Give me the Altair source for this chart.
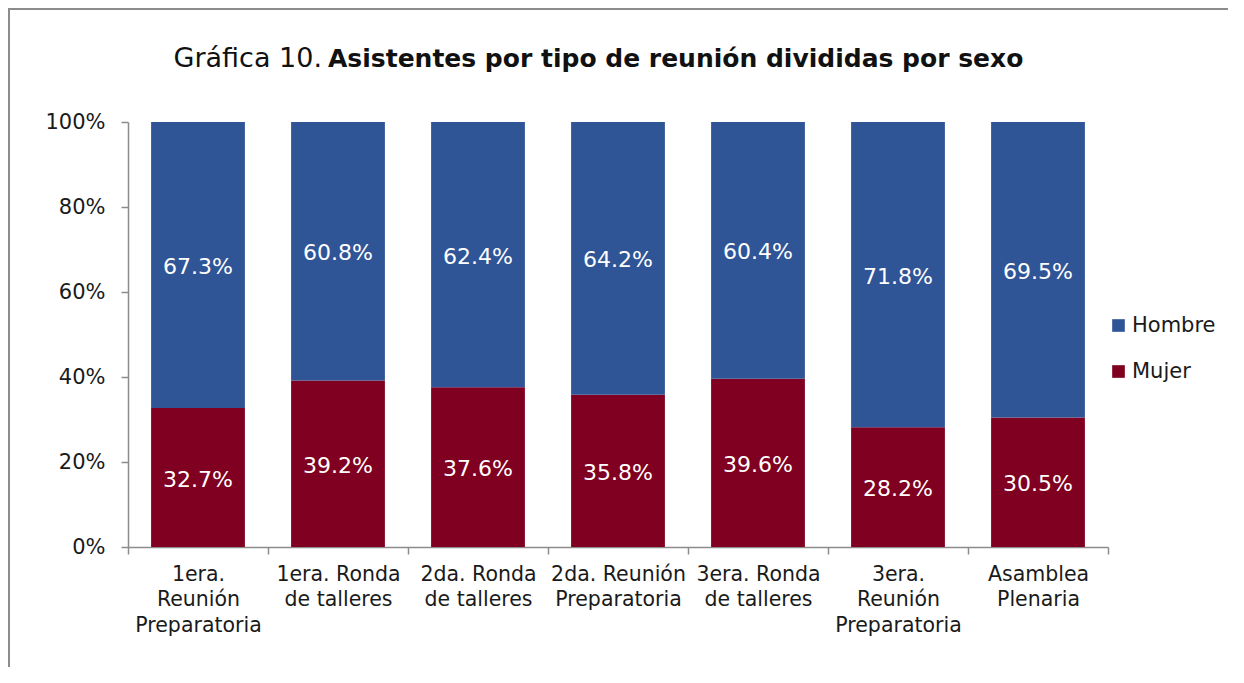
import altair as alt
import pandas as pd

titulo_normal = "Gráfica 10."
titulo_negrita = "Asistentes por tipo de reunión divididas por sexo"

categorias = [
    "1era.|Reunión|Preparatoria",
    "1era. Ronda|de talleres",
    "2da. Ronda|de talleres",
    "2da. Reunión|Preparatoria",
    "3era. Ronda|de talleres",
    "3era.|Reunión|Preparatoria",
    "Asamblea|Plenaria",
]
mujer = [32.7, 39.2, 37.6, 35.8, 39.6, 28.2, 30.5]
hombre = [67.3, 60.8, 62.4, 64.2, 60.4, 71.8, 69.5]
series = ["Hombre", "Mujer"]
colores = ["#2F5597", "#7F0020"]

rows = []
for c, m, h in zip(categorias, mujer, hombre):
    rows.append({"cat": c, "sexo": "Mujer", "v": m / 100, "ord": 0})
    rows.append({"cat": c, "sexo": "Hombre", "v": h / 100, "ord": 1})
df = pd.DataFrame(rows)

FONT = "DejaVu Sans"

base = alt.Chart(df).transform_stack(
    stack="v", groupby=["cat"], as_=["v0", "v1"], sort=[alt.SortField("ord")]
).transform_calculate(mid="(datum.v0 + datum.v1) / 2")

xscale = alt.Scale(paddingInner=0, paddingOuter=0)

xenc = alt.X(
    "cat:N",
    sort=categorias,
    title=None,
    scale=xscale,
    axis=alt.Axis(
        labelAngle=0,
        labelExpr="isString(datum.value) ? split(datum.value, '|') : ''",
        labelFont=FONT,
        labelFontSize=20.5,
        labelLineHeight=25.5,
        labelColor="#1a1a1a",
        labelPadding=10,
        tickBand="extent",
        tickSize=7,
        tickColor="#8c8c8c",
        domainColor="#8c8c8c",
        domainWidth=1.5,
        tickWidth=1.5,
        labelLimit=0,
    ),
)

bars = base.mark_bar(width=alt.RelativeBandSize(0.67)).encode(
    x=xenc,
    y=alt.Y(
        "v0:Q",
        title=None,
        scale=alt.Scale(domain=[0, 1]),
        axis=alt.Axis(
            values=[0, 0.2, 0.4, 0.6, 0.8, 1.0],
            format="%",
            grid=False,
            labelFont=FONT,
            labelFontSize=21,
            labelColor="#1a1a1a",
            labelPadding=16,
            tickSize=7,
            tickColor="#8c8c8c",
            domainColor="#8c8c8c",
            domainWidth=1.5,
            tickWidth=1.5,
        ),
    ),
    y2="v1:Q",
    color=alt.Color(
        "sexo:N",
        scale=alt.Scale(domain=series, range=colores),
        legend=alt.Legend(
            orient="none",
            legendX=980,
            legendY=193,
            title=None,
            symbolType="square",
            symbolSize=160,
            symbolStrokeWidth=0,
            labelFont=FONT,
            labelFontSize=21,
            labelColor="#1a1a1a",
            rowPadding=24,
            labelOffset=3,
        ),
    ),
)

labels = base.mark_text(
    color="white", font=FONT, fontSize=22, baseline="middle", dy=2
).encode(
    x=alt.X("cat:N", sort=categorias, scale=xscale),
    y=alt.Y("mid:Q"),
    text=alt.Text("v:Q", format=".1%"),
)

one = pd.DataFrame({"a": [0]})
t1 = alt.Chart(pd.DataFrame({"t": [titulo_normal]})).mark_text(
    align="right", baseline="alphabetic", font=FONT, fontSize=27, color="#111"
).encode(text="t:N", x=alt.value(194), y=alt.value(-55))
t2 = alt.Chart(pd.DataFrame({"t": [titulo_negrita]})).mark_text(
    align="left", baseline="alphabetic", font=FONT, fontSize=25, fontWeight="bold", color="#111"
).encode(text="t:N", x=alt.value(200), y=alt.value(-55))

left_border = alt.Chart(one).mark_rule(color="#8c8c8c", strokeWidth=2).encode(
    x=alt.value(-119), y=alt.value(-114), y2=alt.value(600)
)
top_border = alt.Chart(one).mark_rule(color="#8c8c8c", strokeWidth=2).encode(
    x=alt.value(-120), x2=alt.value(1200), y=alt.value(-113)
)

chart = alt.layer(bars, labels, t1, t2, left_border, top_border).properties(
    width=980,
    height=425,
    autosize=alt.AutoSizeParams(type="none"),
    padding={"left": 120, "top": 114, "right": 120, "bottom": 120},
).configure_view(stroke=None)

chart.save("out.html", embed_options={"renderer": "svg", "actions": False})
